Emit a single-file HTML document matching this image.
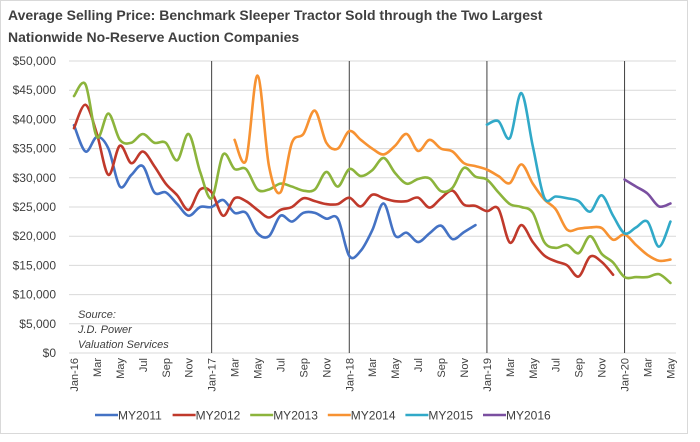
<!DOCTYPE html>
<html><head><meta charset="utf-8"><style>
body{margin:0;background:#fff;width:700px;height:437px;overflow:hidden}
svg{font-family:"Liberation Sans",sans-serif}
</style></head><body>
<svg id="s" width="700" height="437" xmlns="http://www.w3.org/2000/svg">
<rect x="0.5" y="0.5" width="687" height="433" fill="#fff" stroke="#d9d9d9" stroke-width="1"/>
<text x="8" y="20" font-size="14" font-weight="bold" fill="#404040">Average Selling Price: Benchmark Sleeper Tractor Sold through the Two Largest</text>
<text x="8" y="42" font-size="14" font-weight="bold" fill="#404040">Nationwide No-Reserve Auction Companies</text>
<g id="g"></g>
<text x="78" y="318" font-size="11" font-style="italic" fill="#404040">Source:</text>
<text x="78" y="333" font-size="11" font-style="italic" fill="#404040">J.D. Power</text>
<text x="78" y="348" font-size="11" font-style="italic" fill="#404040">Valuation Services</text>
</svg>
<script>
const g=document.getElementById('g');let h='';
const y0=353,py=5.84,x0=74,mx=11.47;
const Y=v=>y0-v*py,X=i=>x0+mx*i;
for(let k=0;k<=10;k++){const y=Y(k*5);
h+=`<line x1="69" x2="676" y1="${y}" y2="${y}" stroke="#d9d9d9" stroke-width="1"/>`;
h+=`<text x="56" y="${y+4}" font-size="12" text-anchor="end" fill="#404040">$${(k*5000).toLocaleString('en-US')}</text>`;}
[12,24,36,48].forEach(i=>{h+=`<line x1="${X(i)}" x2="${X(i)}" y1="61" y2="353" stroke="#404040" stroke-width="1"/>`});
const mn=['Jan','Feb','Mar','Apr','May','Jun','Jul','Aug','Sep','Oct','Nov','Dec'];
for(let i=0;i<=52;i+=2){let m=i%12,l=mn[m];if(m==0)l='Jan-'+(16+i/12);
h+=`<text transform="translate(${X(i)+4},358) rotate(-90)" font-size="11" text-anchor="end" fill="#404040">${l}</text>`;}
const S=[
['#4472c4',0,[39,34.5,37,35,28.5,30.5,32,27.5,27.5,25.5,23.5,25,25,26.2,24,24,20.5,20,23.5,22.5,24,24,23,23,16.6,17.5,21,25.6,20.1,20.6,19,20.5,21.8,19.5,20.7,21.9]],
['#c0392b',0,[38.5,42.5,37.5,30.5,35.5,32.5,34.5,32,29,27,24.5,28,27.5,23.5,26.5,26,24.5,23.2,24.5,25,26.5,26,25.5,25.5,26.6,25.1,27.1,26.5,26,26,26.6,24.9,26.5,27.8,25.4,25.2,24.3,24.7,18.9,21.9,19,16.7,15.7,15,13.1,16.5,15.6,13.4]],
['#8cb43c',0,[44,46,37,41,36.5,36,37.5,36,36,33,37.5,31,26.5,34,31.5,31.5,28,28,29,28.5,27.8,28,31,28.5,31.5,30.3,31.3,33.4,30.8,29,29.8,29.9,27.7,28.3,31.7,30.2,29.7,27.5,25.5,25,24,19,18,18.5,17.1,20,17,15.5,13,13,13,13.5,12]],
['#f79232',14,[36.5,33,47.5,32,27.5,36,37.5,41.5,36,35,38,36.5,35,34,35.5,37.5,34.6,36.5,35,34.5,32.5,32,31.4,30.3,29.1,32.3,29,26.3,24.6,21.1,21.3,21.5,21.4,19.4,20.3,18.5,16.8,15.8,16]],
['#31a9c8',36,[39.1,39.7,36.8,44.5,35.4,26.6,26.8,26.5,26,24.2,27,23.5,20.5,21.5,22.5,18.2,22.5]],
['#7a4fa0',48,[29.7,28.5,27.3,25.1,25.6]]];
S.forEach(([c,s,d])=>{const p=d.map((v,j)=>[X(s+j),Y(v)]);let str=`M${p[0][0]},${p[0][1]}`;
for(let j=0;j<p.length-1;j++){const a=p[j-1]||p[j],b=p[j],e=p[j+1],f=p[j+2]||e,t=6;
str+=` C${b[0]+(e[0]-a[0])/t},${b[1]+(e[1]-a[1])/t} ${e[0]-(f[0]-b[0])/t},${e[1]-(f[1]-b[1])/t} ${e[0]},${e[1]}`;}
h+=`<path d="${str}" fill="none" stroke="${c}" stroke-width="2.6" stroke-linejoin="round" stroke-linecap="round"/>`;});
S.forEach(([c],k)=>{const lx=95+77.6*k;h+=`<line x1="${lx}" x2="${lx+23}" y1="415" y2="415" stroke="${c}" stroke-width="2.6"/><text x="${lx+23}" y="419.5" font-size="12" fill="#404040">MY${2011+k}</text>`;});
g.innerHTML=h;
</script>
</body></html>
